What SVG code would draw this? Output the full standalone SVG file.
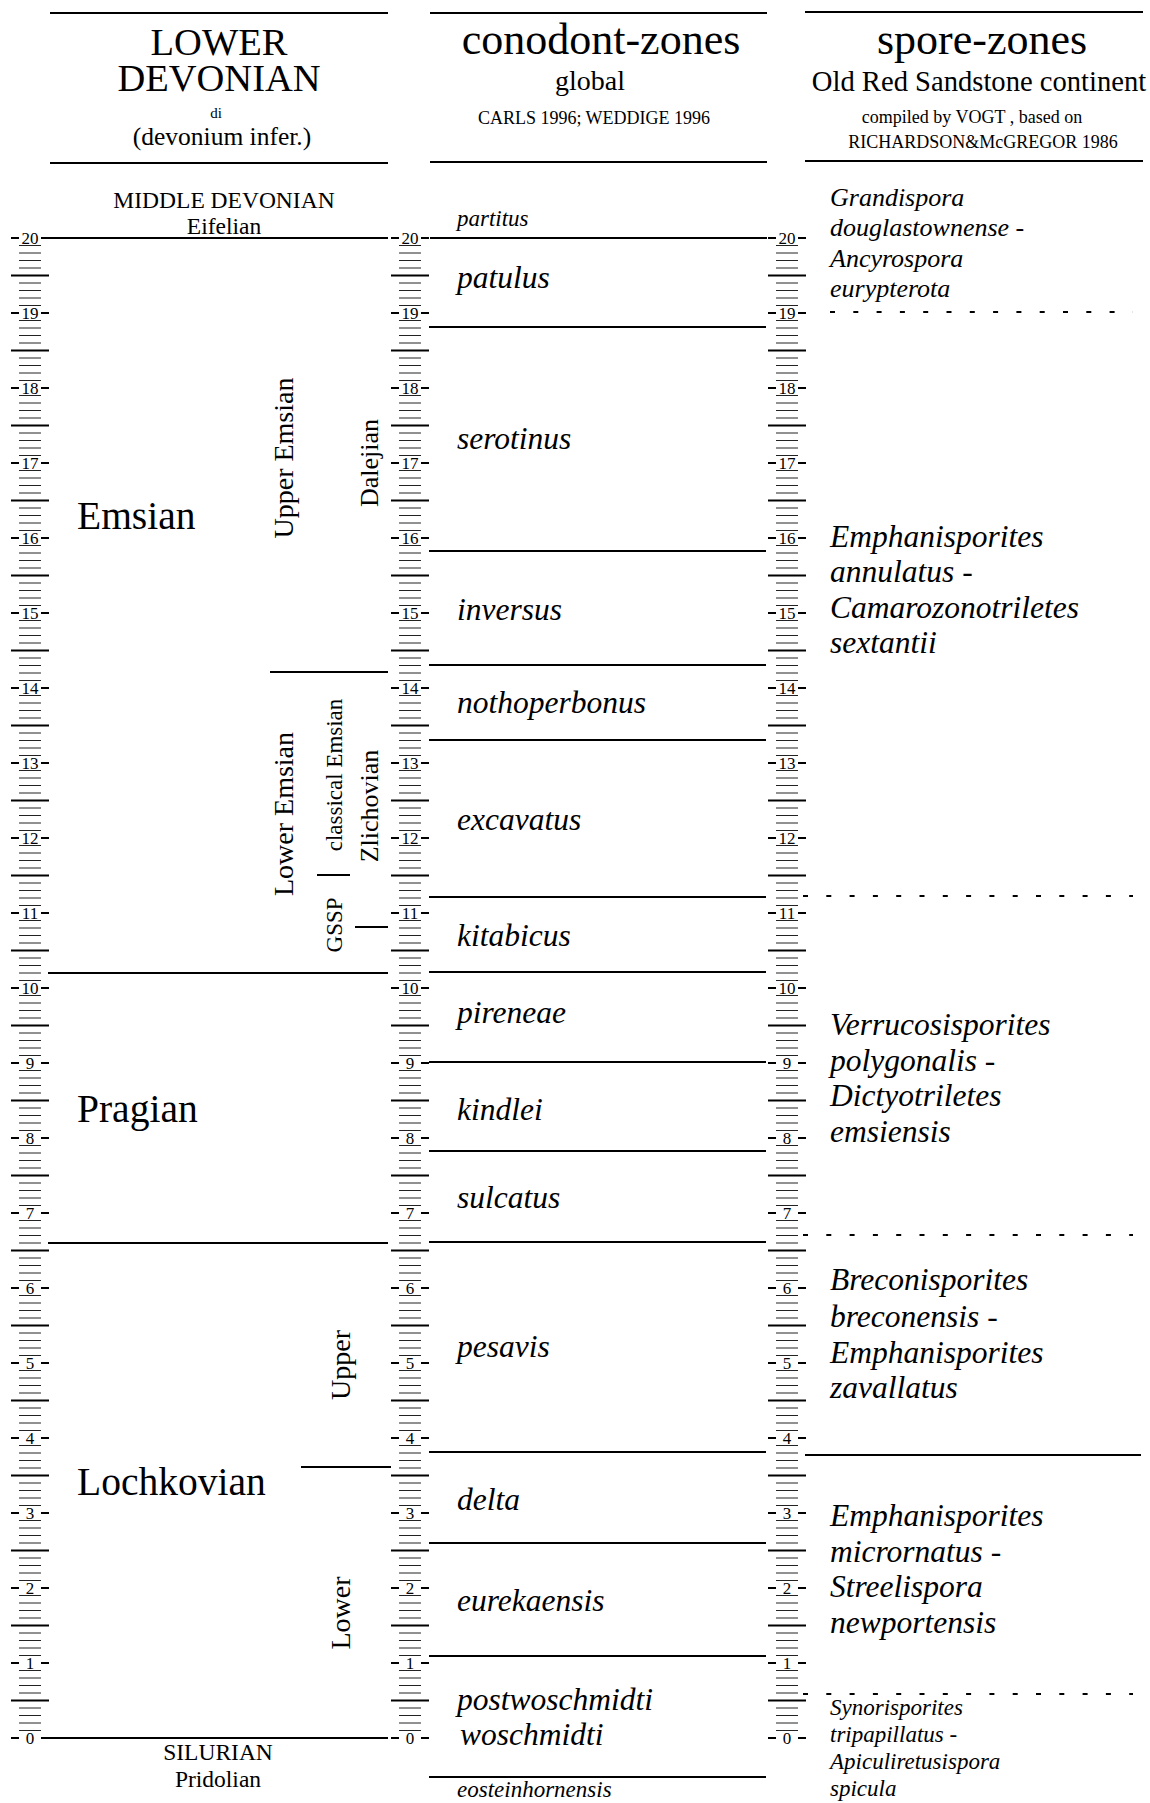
<svg xmlns="http://www.w3.org/2000/svg" xmlns:xlink="http://www.w3.org/1999/xlink" width="1150" height="1803" viewBox="0 0 1150 1803">
<style>
text{font-family:"Liberation Serif","Times New Roman",serif;fill:#000}
.i{font-style:italic}
.c{text-anchor:middle}
.ln{stroke:#000;stroke-width:2;fill:none}
.dl{stroke:#000;stroke-width:2;fill:none;stroke-dasharray:5 18.3}
.tk{stroke:#222;stroke-width:1}
.lt{stroke:#000;stroke-width:2}
.num{font-size:17px;text-anchor:middle}
.h1{font-size:38.5px}
.h2{font-size:44px}
.h3{font-size:28px}
.h4{font-size:18px}
.st{font-size:23.5px}
.big{font-size:39.5px}
.z{font-size:31.5px}
.zs{font-size:23px}
.v28{font-size:28px}
.v26{font-size:26px}
.v23{font-size:23px}
</style>
<defs>
<g id="unit">
<line class="tk" x1="-11" x2="11" y1="7.5" y2="7.5"/>
<line class="tk" x1="-11" x2="11" y1="15" y2="15"/>
<line class="tk" x1="-11" x2="11" y1="22.5" y2="22.5"/>
<line class="tk" x1="-11" x2="11" y1="30" y2="30"/>
<line class="lt" x1="-19" x2="19" y1="37.5" y2="37.5"/>
<line class="tk" x1="-11" x2="11" y1="45" y2="45"/>
<line class="tk" x1="-11" x2="11" y1="52.5" y2="52.5"/>
<line class="tk" x1="-11" x2="11" y1="60" y2="60"/>
<line class="tk" x1="-11" x2="11" y1="67.5" y2="67.5"/>
</g>
<g id="lab">
<line class="lt" x1="-19" x2="-11" y1="0" y2="0"/>
<line class="lt" x1="11" x2="19" y1="0" y2="0"/>
</g>
<g id="ruler">
<use xlink:href="#unit" y="238"/><use xlink:href="#unit" y="313"/><use xlink:href="#unit" y="388"/><use xlink:href="#unit" y="463"/><use xlink:href="#unit" y="538"/>
<use xlink:href="#unit" y="613"/><use xlink:href="#unit" y="688"/><use xlink:href="#unit" y="763"/><use xlink:href="#unit" y="838"/><use xlink:href="#unit" y="913"/>
<use xlink:href="#unit" y="988"/><use xlink:href="#unit" y="1063"/><use xlink:href="#unit" y="1138"/><use xlink:href="#unit" y="1213"/><use xlink:href="#unit" y="1288"/>
<use xlink:href="#unit" y="1363"/><use xlink:href="#unit" y="1438"/><use xlink:href="#unit" y="1513"/><use xlink:href="#unit" y="1588"/><use xlink:href="#unit" y="1663"/>
<use xlink:href="#lab" y="238"/><use xlink:href="#lab" y="313"/><use xlink:href="#lab" y="388"/><use xlink:href="#lab" y="463"/><use xlink:href="#lab" y="538"/>
<use xlink:href="#lab" y="613"/><use xlink:href="#lab" y="688"/><use xlink:href="#lab" y="763"/><use xlink:href="#lab" y="838"/><use xlink:href="#lab" y="913"/>
<use xlink:href="#lab" y="988"/><use xlink:href="#lab" y="1063"/><use xlink:href="#lab" y="1138"/><use xlink:href="#lab" y="1213"/><use xlink:href="#lab" y="1288"/>
<use xlink:href="#lab" y="1363"/><use xlink:href="#lab" y="1438"/><use xlink:href="#lab" y="1513"/><use xlink:href="#lab" y="1588"/><use xlink:href="#lab" y="1663"/><use xlink:href="#lab" y="1738"/>
<text class="num" x="0" y="244">20</text><text class="num" x="0" y="319">19</text><text class="num" x="0" y="394">18</text><text class="num" x="0" y="469">17</text><text class="num" x="0" y="544">16</text>
<text class="num" x="0" y="619">15</text><text class="num" x="0" y="694">14</text><text class="num" x="0" y="769">13</text><text class="num" x="0" y="844">12</text><text class="num" x="0" y="919">11</text>
<text class="num" x="0" y="994">10</text><text class="num" x="0" y="1069">9</text><text class="num" x="0" y="1144">8</text><text class="num" x="0" y="1219">7</text><text class="num" x="0" y="1294">6</text>
<text class="num" x="0" y="1369">5</text><text class="num" x="0" y="1444">4</text><text class="num" x="0" y="1519">3</text><text class="num" x="0" y="1594">2</text><text class="num" x="0" y="1669">1</text><text class="num" x="0" y="1744">0</text>
</g>
</defs>
<rect width="1150" height="1803" fill="#fff"/>

<g id="rulers">
<use id="ruler1" xlink:href="#ruler" x="30"/>
<use id="ruler2" xlink:href="#ruler" x="410"/>
<use id="ruler3" xlink:href="#ruler" x="787"/>
</g>

<g id="connectors">
<line class="ln" x1="50" y1="13" x2="388" y2="13"/>
<line class="ln" x1="50" y1="163" x2="388" y2="163"/>
<line class="ln" x1="430" y1="13" x2="767" y2="13"/>
<line class="ln" x1="430" y1="162" x2="767" y2="162"/>
<line class="ln" x1="805" y1="12" x2="1143" y2="12"/>
<line class="ln" x1="805" y1="161" x2="1143" y2="161"/>
<line class="ln" x1="48" y1="238" x2="388" y2="238"/>
<line class="ln" x1="270" y1="672" x2="388" y2="672"/>
<line class="ln" x1="317" y1="875" x2="350" y2="875"/>
<line class="ln" x1="355" y1="927" x2="388" y2="927"/>
<line class="ln" x1="48" y1="973" x2="388" y2="973"/>
<line class="ln" x1="48" y1="1243" x2="388" y2="1243"/>
<line class="ln" x1="301" y1="1467" x2="391" y2="1467"/>
<line class="ln" x1="47" y1="1738" x2="388" y2="1738"/>
<line class="ln" x1="430" y1="238" x2="767" y2="238"/>
<line class="ln" x1="429" y1="327" x2="766" y2="327"/>
<line class="ln" x1="429" y1="551" x2="766" y2="551"/>
<line class="ln" x1="429" y1="665" x2="766" y2="665"/>
<line class="ln" x1="429" y1="740" x2="766" y2="740"/>
<line class="ln" x1="429" y1="897" x2="766" y2="897"/>
<line class="ln" x1="429" y1="972" x2="766" y2="972"/>
<line class="ln" x1="429" y1="1062" x2="766" y2="1062"/>
<line class="ln" x1="429" y1="1151" x2="766" y2="1151"/>
<line class="ln" x1="429" y1="1242" x2="766" y2="1242"/>
<line class="ln" x1="429" y1="1452" x2="766" y2="1452"/>
<line class="ln" x1="429" y1="1543" x2="766" y2="1543"/>
<line class="ln" x1="429" y1="1656" x2="766" y2="1656"/>
<line class="ln" x1="429" y1="1777" x2="766" y2="1777"/>
<line class="dl" x1="830" y1="312" x2="1133" y2="312"/>
<line class="dl" x1="803" y1="896" x2="1133" y2="896"/>
<line class="dl" x1="803" y1="1235" x2="1133" y2="1235"/>
<line class="ln" x1="805" y1="1455" x2="1141" y2="1455"/>
<line class="dl" x1="803" y1="1694" x2="1133" y2="1694"/>
</g>

<g id="header-col1">
<text class="h1 c" x="219" y="55">LOWER</text>
<text class="h1 c" x="219" y="91">DEVONIAN</text>
<text class="c" x="216" y="118" font-size="15">di</text>
<text class="c" x="222" y="145" font-size="25.5">(devonium infer.)</text>
</g>
<g id="header-col2">
<text class="h2 c" x="601" y="54">conodont-zones</text>
<text class="h3 c" x="590" y="90">global</text>
<text class="h4 c" x="594" y="124">CARLS 1996; WEDDIGE 1996</text>
</g>
<g id="header-col3">
<text class="h2 c" x="982" y="54">spore-zones</text>
<text class="c" font-size="28.6" x="979" y="91">Old Red Sandstone continent</text>
<text class="h4 c" x="972" y="123">compiled by VOGT , based on</text>
<text class="h4 c" x="983" y="148">RICHARDSON&amp;McGREGOR 1986</text>
</g>

<g id="middle-devonian"><text class="st c" x="224" y="208">MIDDLE DEVONIAN</text><text class="st c" x="224" y="234">Eifelian</text></g>
<g id="silurian"><text class="st c" x="218" y="1760">SILURIAN</text><text class="st c" x="218" y="1787">Pridolian</text></g>
<g id="emsian"><text class="big" x="77" y="529">Emsian</text></g>
<g id="pragian"><text class="big" x="77" y="1122">Pragian</text></g>
<g id="lochkovian"><text class="big" x="77" y="1495">Lochkovian</text></g>
<g id="upper-emsian"><text class="v28 c" transform="translate(293,458) rotate(-90)">Upper Emsian</text></g>
<g id="lower-emsian"><text class="v28 c" transform="translate(293,814) rotate(-90)">Lower Emsian</text></g>
<g id="dalejian"><text class="v26 c" transform="translate(378,463) rotate(-90)">Dalejian</text></g>
<g id="zlichovian"><text class="v26 c" transform="translate(378,806) rotate(-90)">Zlichovian</text></g>
<g id="classical-emsian"><text class="v23 c" transform="translate(342,775) rotate(-90)">classical Emsian</text></g>
<g id="gssp"><text class="v23 c" transform="translate(342,925) rotate(-90)">GSSP</text></g>
<g id="lochkovian-upper"><text class="v28 c" transform="translate(350,1365) rotate(-90)">Upper</text></g>
<g id="lochkovian-lower"><text class="v28 c" transform="translate(350,1613) rotate(-90)">Lower</text></g>

<g id="conodont-zones">
<text class="i zs" x="457" y="226">partitus</text>
<text class="i z" x="457" y="288">patulus</text>
<text class="i z" x="457" y="449">serotinus</text>
<text class="i z" x="457" y="620">inversus</text>
<text class="i z" x="457" y="713">nothoperbonus</text>
<text class="i z" x="457" y="830">excavatus</text>
<text class="i z" x="457" y="946">kitabicus</text>
<text class="i z" x="457" y="1023">pireneae</text>
<text class="i z" x="457" y="1120">kindlei</text>
<text class="i z" x="457" y="1208">sulcatus</text>
<text class="i z" x="457" y="1357">pesavis</text>
<text class="i z" x="457" y="1510">delta</text>
<text class="i z" x="457" y="1611">eurekaensis</text>
<text class="i z" x="457" y="1710">postwoschmidti</text>
<text class="i z" x="460" y="1745">woschmidti</text>
<text class="i zs" x="457" y="1797">eosteinhornensis</text>
</g>

<g id="spore-zones">
<g id="sz-grandispora"><text class="i" font-size="26" x="830" y="206">Grandispora</text><text class="i" font-size="26" x="830" y="236">douglastownense -</text><text class="i" font-size="26" x="830" y="267">Ancyrospora</text><text class="i" font-size="26" x="830" y="297">eurypterota</text></g>
<g id="sz-annulatus"><text class="i z" x="830" y="547">Emphanisporites</text><text class="i z" x="830" y="582">annulatus -</text><text class="i z" x="830" y="618">Camarozonotriletes</text><text class="i z" x="830" y="653">sextantii</text></g>
<g id="sz-verrucosisporites"><text class="i z" x="830" y="1035">Verrucosisporites</text><text class="i z" x="830" y="1071">polygonalis -</text><text class="i z" x="830" y="1106">Dictyotriletes</text><text class="i z" x="830" y="1142">emsiensis</text></g>
<g id="sz-breconisporites"><text class="i z" x="830" y="1290">Breconisporites</text><text class="i z" x="830" y="1327">breconensis -</text><text class="i z" x="830" y="1363">Emphanisporites</text><text class="i z" x="830" y="1398">zavallatus</text></g>
<g id="sz-micrornatus"><text class="i z" x="830" y="1526">Emphanisporites</text><text class="i z" x="830" y="1562">micrornatus -</text><text class="i z" x="830" y="1597">Streelispora</text><text class="i z" x="830" y="1633">newportensis</text></g>
<g id="sz-synorisporites"><text class="i zs" x="830" y="1715">Synorisporites</text><text class="i zs" x="830" y="1742">tripapillatus -</text><text class="i zs" x="830" y="1769">Apiculiretusispora</text><text class="i zs" x="830" y="1796">spicula</text></g>
</g>
</svg>
